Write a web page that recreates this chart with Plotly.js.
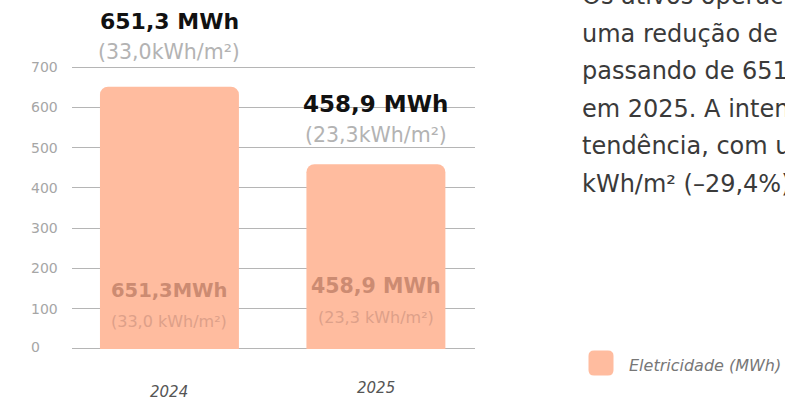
<!DOCTYPE html>
<html>
<head>
<meta charset="utf-8">
<script src="https://cdn.plot.ly/plotly-3.0.1.min.js"></script>
<style>
  html, body { margin: 0; padding: 0; background: #fff; }
  #chart { width: 785px; height: 403px; }
</style>
</head>
<body>
<div id="chart"></div>
<script>
// --- data ---
const years = ['2024', '2025'];
const energyMWh = [651.3, 458.9];
const topLabels = ['651,3 MWh', '458,9 MWh'];
const topSubLabels = ['(33,0kWh/m²)', '(23,3kWh/m²)'];
const innerLabels = ['651,3MWh', '458,9 MWh'];
const innerSubLabels = ['(33,0 kWh/m²)', '(23,3 kWh/m²)'];
const yTicks = [0, 100, 200, 300, 400, 500, 600, 700];
const legendName = 'Eletricidade (MWh)';
const paragraph = [
  'Os ativos operacionais registaram',
  'uma redução de 29,5% no consumo,',
  'passando de 651,3 MWh em 2024 para 458,9 MWh',
  'em 2025. A intensidade energética acompanhou esta',
  'tendência, com uma redução de 33,0 para 23,3',
  'kWh/m² (–29,4%).'
];

const FONT = 'DejaVu Sans, sans-serif';
const W = 785, H = 403;
const margin = { l: 72, r: 310, t: 65, b: 52 };
const px2paperX = px => (px - margin.l) / (W - margin.l - margin.r);
const px2paperY = py => (H - margin.b - py) / (H - margin.t - margin.b);

const traces = [{
  type: 'bar',
  x: years,
  y: energyMWh,
  width: 0.673,
  marker: { color: '#FFBC9F', cornerradius: 8 },
  hoverinfo: 'skip',
  showlegend: false
}];

let annotations = [];
years.forEach((yr, i) => {
  // values above the bars
  const top = i === 0 ? 21 : 104;
  annotations.push({
    x: i, xref: 'x', y: px2paperY(top), yref: 'paper',
    text: topLabels[i], showarrow: false, xanchor: 'center', yanchor: 'middle',
    font: { family: FONT, size: i === 0 ? 22 : 23, color: '#111', weight: 'bold' }
  });
  annotations.push({
    x: i, xref: 'x', y: px2paperY(top + 31), yref: 'paper',
    text: topSubLabels[i], showarrow: false, xanchor: 'center', yanchor: 'middle',
    font: { family: FONT, size: 20.5, color: '#B3B3B3' }
  });
  // labels inside the bars
  const inner = i === 0 ? 290 : 286;
  annotations.push({
    x: i, xref: 'x', y: px2paperY(inner), yref: 'paper',
    text: innerLabels[i], showarrow: false, xanchor: 'center', yanchor: 'middle',
    font: { family: FONT, size: i === 0 ? 19.5 : 20.5, color: '#CC8B72', weight: 'bold' }
  });
  annotations.push({
    x: i, xref: 'x', y: px2paperY(inner + 31), yref: 'paper',
    text: innerSubLabels[i], showarrow: false, xanchor: 'center', yanchor: 'middle',
    font: { family: FONT, size: 16, color: '#DDA089' }
  });
  // category labels
  annotations.push({
    x: i, xref: 'x', y: px2paperY(i === 0 ? 392 : 388), yref: 'paper',
    text: yr, showarrow: false, xanchor: 'center', yanchor: 'middle',
    font: { family: FONT, size: 15, color: '#555', style: 'italic' }
  });
});
// y tick labels, left aligned
yTicks.forEach(v => {
  annotations.push({
    x: px2paperX(29), xref: 'paper', y: v, yref: 'y', yshift: v === 0 ? 2 : 0,
    text: String(v), showarrow: false, xanchor: 'left', yanchor: 'middle',
    font: { family: FONT, size: 14, color: '#A6A6A6' }
  });
});
// paragraph on the right
paragraph.forEach((line, i) => {
  annotations.push({
    x: px2paperX(580), xref: 'paper', y: px2paperY(-4 + i * 37.6), yref: 'paper',
    text: line, showarrow: false, xanchor: 'left', yanchor: 'middle',
    font: { family: FONT, size: 24, color: '#3A3A3A' }
  });
});
// legend
annotations.push({
  x: px2paperX(627), xref: 'paper', y: px2paperY(365), yref: 'paper',
  text: legendName, showarrow: false, xanchor: 'left', yanchor: 'middle',
  font: { family: FONT, size: 16, color: '#777', style: 'italic' }
});

const shapes = [{
  type: 'path', xref: 'paper', yref: 'paper',
  xsizemode: 'pixel', ysizemode: 'pixel',
  xanchor: px2paperX(601), yanchor: px2paperY(363),
  path: 'M -7,-12.5 L 7,-12.5 Q 12.5,-12.5 12.5,-7 L 12.5,7 Q 12.5,12.5 7,12.5 L -7,12.5 Q -12.5,12.5 -12.5,7 L -12.5,-7 Q -12.5,-12.5 -7,-12.5 Z',
  fillcolor: '#FFBC9F', line: { width: 0 }
}];

const layout = {
  width: W, height: H,
  margin: margin,
  paper_bgcolor: '#fff', plot_bgcolor: '#fff',
  showlegend: false,
  xaxis: {
    type: 'category', range: [-0.472, 1.48],
    showticklabels: false, showgrid: false, zeroline: false, ticks: ''
  },
  yaxis: {
    range: [-5, 705], tickvals: yTicks, showticklabels: false,
    showgrid: true, gridcolor: '#B5B5B5', gridwidth: 1,
    zeroline: false, ticks: ''
  },
  annotations: annotations,
  shapes: shapes
};

Plotly.newPlot('chart', traces, layout, { staticPlot: true, displayModeBar: false });
</script>
</body>
</html>
